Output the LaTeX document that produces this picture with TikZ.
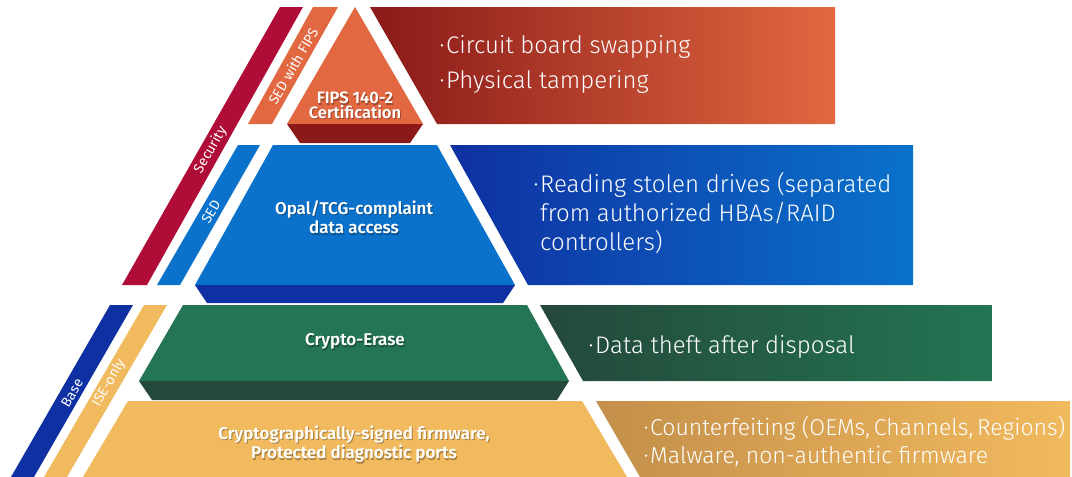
\documentclass[tikz,border=0pt]{standalone}
\usepackage{fontspec}
\setmainfont{Fira Sans}[BoldFont={Fira Sans SemiBold}]
\newfontfamily\lightfont{Fira Sans Light}

% colours of the four tiers
\definecolor{crimson}{RGB}{176,12,56}
\definecolor{fipsorange}{RGB}{225,104,64}
\definecolor{darkred}{RGB}{138,25,24}
\definecolor{sedblue}{RGB}{10,114,202}
\definecolor{navy}{RGB}{15,48,162}
\definecolor{erasegreen}{RGB}{35,117,83}
\definecolor{darkgreen}{RGB}{36,72,58}
\definecolor{gold}{RGB}{242,186,94}
\definecolor{darkgold}{RGB}{195,143,74}

\tikzset{
  bandlabel/.style={text=white, font=\fontsize{14}{14}\selectfont, rotate=60, inner sep=0pt},
  tierlabel/.style={text=white, font=\fontsize{17}{19.5}\selectfont\bfseries, align=center, inner sep=0pt},
  threat/.style={text=white, font=\lightfont\fontsize{24}{29}\selectfont, align=left, anchor=north west, inner sep=0pt},
}
% bullet hanging left of the first line
\newcommand{\bul}{\llap{·\hspace{1.5pt}}}
% white label with a soft dark copy behind it
\newcommand{\tiertext}[4][]{%
  \node[tierlabel, #1, text=black, opacity=.3, xshift=1pt, yshift=-1.5pt] at #3 {#4};
  \node[tierlabel, #1] (#2) at #3 {#4};}

\begin{document}
\begin{tikzpicture}[x=1pt, y=-1pt]
\useasboundingbox (0,0) rectangle (1072,477);

% side bands
\fill[crimson] (280,7) -- (303,7) -- (147,285) -- (122,285) -- cycle;      % Security
\fill[fipsorange] (313,7) -- (338,7) -- (272,124) -- (248,124) -- cycle;   % SED with FIPS
\fill[sedblue] (238,145) -- (260,145) -- (180,285) -- (157,285) -- cycle;  % SED
\fill[navy] (110,305) -- (133,305) -- (34,477) -- (11,477) -- cycle;       % Base
\fill[gold] (144,305) -- (167,305) -- (67,477) -- (44,477) -- cycle;       % ISE-only

% pyramid tiers with their bevels
\fill[fipsorange] (355,7) -- (423,124) -- (287,124) -- cycle;
\fill[darkred] (287,124) -- (423,124) -- (410,143) -- (300,143) -- cycle;
\fill[sedblue] (273,145) -- (437,145) -- (515,285) -- (195,285) -- cycle;
\fill[navy] (195,285) -- (515,285) -- (503,303) -- (207,303) -- cycle;
\fill[erasegreen] (183,305) -- (527,305) -- (569,381) -- (139,381) -- cycle;
\fill[darkgreen] (139,381) -- (569,381) -- (557,400) -- (152,400) -- cycle;
\fill[gold] (128,401) -- (582,401) -- (627,477) -- (83,477) -- cycle;

% threat panels
\shade[left color=darkred, right color=fipsorange] (370,7) -- (835,7) -- (835,124) -- (437,124) -- cycle;
\shade[left color=navy, right color=sedblue] (450,145) -- (913,145) -- (913,285) -- (528,285) -- cycle;
\shade[left color=darkgreen, right color=erasegreen] (540,305) -- (992,305) -- (992,381) -- (583,381) -- cycle;
\shade[left color=darkgold, right color=gold] (596,401) -- (1070,401) -- (1070,477) -- (640,477) -- cycle;

% band labels
\node[bandlabel] (security) at (210.5,150) {Security};
\node[bandlabel] (sedfips) at (293,66) {SED with FIPS};
\node[bandlabel] (sed) at (211,212) {SED};
\node[bandlabel] (base) at (72,393) {Base};
\node[bandlabel] (iseonly) at (109,383) {ISE-only};

% tier labels
\tiertext[font=\fontsize{16.5}{14.5}\selectfont\bfseries]{fips}{(355,105.5)}{FIPS 140-2\\Certification}
\tiertext{opal}{(354,217)}{Opal/TCG-complaint\\data access}
\tiertext{erase}{(355,341.5)}{Crypto-Erase}
\tiertext{firmware}{(354,444)}{Cryptographically-signed firmware,\\Protected diagnostic ports}

% threats
\node[threat, font=\lightfont\fontsize{24}{35}\selectfont] (physical) at (446,35.5) {\bul Circuit board swapping\\\bul Physical tampering};
\node[threat] (stolen) at (540,172.5) {\bul Reading stolen drives (separated\\from authorized HBAs/RAID\\controllers)};
\node[threat] (disposal) at (595,335.5) {\bul Data theft after disposal};
\node[threat, font=\lightfont\fontsize{23}{28.5}\selectfont] (counterfeit) at (650,416) {\bul Counterfeiting (OEMs,\,Channels,\,Regions)\\\bul Malware, non-authentic firmware};

\end{tikzpicture}
\end{document}
